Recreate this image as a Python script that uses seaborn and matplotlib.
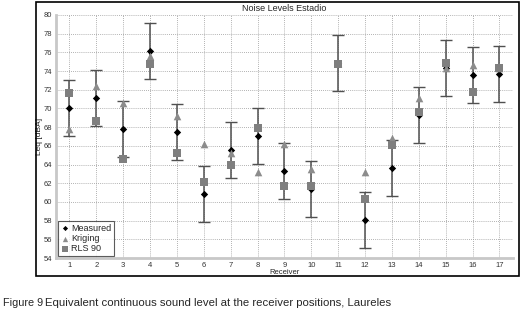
import numpy as np
import pandas as pd
import seaborn as sns
import matplotlib.pyplot as plt
from matplotlib.patches import Rectangle

sns.set_style('white')
plt.rcParams['font.family'] = ['Liberation Sans', 'DejaVu Sans']

# values (dBA)
receivers = list(range(1, 18))
measured = [70.0, 71.1, 67.8, 76.1, 67.5, 60.8, 65.6, 67.1, 63.3, 61.4, 74.9, 58.1, 63.6, 69.3, 74.3, 73.6, 73.7]
kriging = [67.8, 72.4, 70.6, 75.6, 69.2, 66.2, 65.2, 63.2, 66.2, 63.5, 74.9, 63.2, 66.8, 71.1, 74.3, 74.6, 74.3]
rls90 = [71.7, 68.7, 64.6, 74.8, 65.2, 62.1, 63.9, 67.9, 61.7, 61.7, 74.8, 60.3, 66.1, 69.6, 74.9, 71.8, 74.3]
err = 3.0

df = pd.DataFrame({'Receiver': receivers, 'Measured': measured,
                   'Kriging': kriging, 'RLS 90': rls90})

fig = plt.figure(figsize=(5.21, 3.10), dpi=100)
ax = fig.add_axes([0.1075, 0.1677, 0.877, 0.784])

# error bars around measured level
ax.errorbar(df['Receiver'], df['Measured'], yerr=err, fmt='none',
            ecolor='#505050', elinewidth=1.1, capsize=4.5, capthick=1.0, zorder=2)

sns.scatterplot(data=df, x='Receiver', y='Measured', marker='D', s=14,
                color='black', edgecolor='black', linewidth=0, label='Measured', ax=ax, zorder=3)
sns.scatterplot(data=df, x='Receiver', y='Kriging', marker='^', s=30,
                color='#8c8c8c', edgecolor='#8c8c8c', linewidth=0, label='Kriging', ax=ax, zorder=4)
sns.scatterplot(data=df, x='Receiver', y='RLS 90', marker='s', s=28,
                color='#7f7f7f', edgecolor='#7f7f7f', linewidth=0, label='RLS 90', ax=ax, zorder=5)

ax.set_xlim(0.5, 17.5)
ax.set_ylim(54, 80)
ax.set_xticks(receivers)
ax.set_yticks(np.arange(54, 81, 2))
ax.tick_params(labelsize=5.5, length=0, pad=3, colors='#333333')
ax.grid(True, linestyle=(0, (1, 1.5)), color='#999999', linewidth=0.6)
ax.set_axisbelow(True)
for s in ['top', 'right']:
    ax.spines[s].set_visible(False)
for s in ['left', 'bottom']:
    ax.spines[s].set_color('#c8c8c8')
    ax.spines[s].set_linewidth(2)

ax.set_title('Noise Levels Estadio', fontsize=6.5, pad=3)
ax.set_xlabel('Receiver', fontsize=5.5, labelpad=0)
ax.set_ylabel('Leq [dBA]', fontsize=6, labelpad=0.5)

leg = ax.legend(loc='lower left', fontsize=6.5, frameon=True, fancybox=False,
                borderpad=0.3, handletextpad=0.2, labelspacing=0.15,
                handlelength=1.0, borderaxespad=0.2, markerscale=0.7)
leg.get_frame().set_edgecolor('#333333')
leg.get_frame().set_linewidth(0.8)

# outer frame
fig.patches.append(Rectangle((36 / 521, 1 - 276 / 310), (519 - 36) / 521, 274 / 310,
                             transform=fig.transFigure, fill=False,
                             edgecolor='black', linewidth=1.2))

fig.text(0.006, 1 - 306 / 310, 'Figure 9', fontsize=7.8, va='baseline')
fig.text(0.086, 1 - 306 / 310, 'Equivalent continuous sound level at the receiver positions, Laureles',
         fontsize=8.2, va='baseline')

fig.savefig('out.png', dpi=100)
